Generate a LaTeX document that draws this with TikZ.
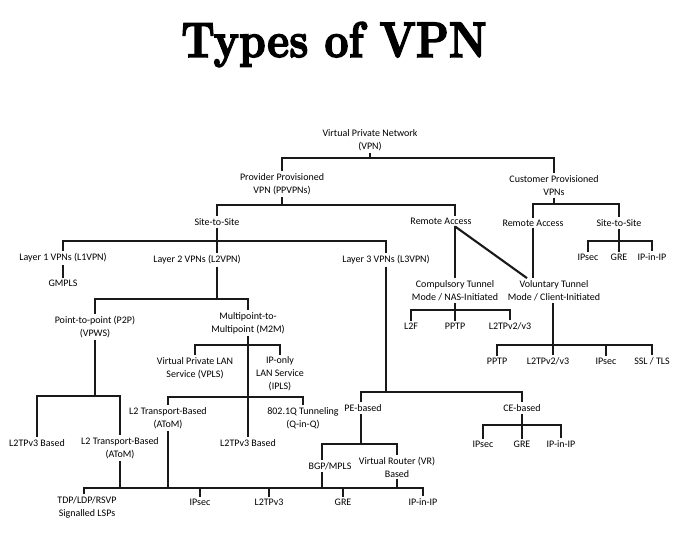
\documentclass[tikz,border=0pt]{standalone}
\usepackage{fontspec}
\newfontfamily\bodyfont{Carlito}
\newfontfamily\titlefont{lmroman10-bold.otf}[FakeBold=3]
\tikzset{
  lbl/.style={font=\bodyfont\fontsize{10}{13}\selectfont, align=center, inner xsep=1pt, inner ysep=2pt, text=black},
  ln/.style={line width=2.1pt, black!90}
}
\begin{document}
\begin{tikzpicture}[x=1pt,y=-1pt]
\useasboundingbox (0,0) rectangle (680,539);
\node[anchor=base, inner sep=0, font=\titlefont\fontsize{50}{50}\selectfont] (title) at (334,57) {\scalebox{0.84}[1]{Types of VPN}};

% nodes
\node[lbl] (vpn) at (370,140.5) {Virtual Private Network\\(VPN)};
\node[lbl] (pp) at (282,184) {Provider Provisioned\\VPN (PPVPNs)};
\node[lbl] (cp) at (554,185.5) {Customer Provisioned\\VPNs};
\node[lbl] (sts) at (217,222) {Site-to-Site};
\node[lbl] (ra) at (441,221) {Remote Access};
\node[lbl] (cra) at (533,223) {Remote Access};
\node[lbl] (csts) at (619,223) {Site-to-Site};
\node[lbl] (cipsec) at (588,257) {IPsec};
\node[lbl] (cgre) at (619,257) {GRE};
\node[lbl] (cipip) at (652,257) {IP-in-IP};
\node[lbl] (l1) at (63,258) {Layer 1 VPNs (L1VPN)};
\node[lbl] (l2) at (197,260) {Layer 2 VPNs (L2VPN)};
\node[lbl] (l3) at (386,260) {Layer 3 VPNs (L3VPN)};
\node[lbl] (gmpls) at (63,283) {GMPLS};
\node[lbl] (comp) at (455,290.5) {Compulsory Tunnel\\Mode / NAS-Initiated};
\node[lbl] (vol) at (554,290.5) {Voluntary Tunnel\\Mode / Client-Initiated};
\node[lbl] (l2f) at (411,326) {L2F};
\node[lbl] (pptpa) at (455,326) {PPTP};
\node[lbl] (l2tpa) at (510,326) {L2TPv2/v3};
\node[lbl] (vpptp) at (497,361) {PPTP};
\node[lbl] (vl2tp) at (548,361) {L2TPv2/v3};
\node[lbl] (vipsec) at (606,361) {IPsec};
\node[lbl] (vssl) at (652,361) {SSL / TLS};
\node[lbl] (p2p) at (95,327) {Point-to-point (P2P)\\(VPWS)};
\node[lbl] (m2m) at (248,323) {Multipoint-to-\\Multipoint (M2M)};
\node[lbl] (vpls) at (195,368) {Virtual Private LAN\\Service (VPLS)};
\node[lbl] (ipls) at (280,374) {IP-only\\LAN Service\\(IPLS)};
\node[lbl] (atomb) at (168,418) {L2 Transport-Based\\(AToM)};
\node[lbl] (qinq) at (303,418) {802.1Q Tunneling\\(Q-in-Q)};
\node[lbl] (l2tpvb) at (248,443) {L2TPv3 Based};
\node[lbl] (l2tpva) at (37,443) {L2TPv3 Based};
\node[lbl] (atoma) at (120,448) {L2 Transport-Based\\(AToM)};
\node[lbl] (pe) at (363,408) {PE-based};
\node[lbl] (ce) at (522,408) {CE-based};
\node[lbl] (ceipsec) at (483,444) {IPsec};
\node[lbl] (cegre) at (522,444) {GRE};
\node[lbl] (ceipip) at (561,444) {IP-in-IP};
\node[lbl] (bgp) at (330,466) {BGP/MPLS};
\node[lbl] (vr) at (397,467) {Virtual Router (VR)\\Based};
\node[lbl] (tdp) at (87,507.5) {TDP/LDP/RSVP\\Signalled LSPs};
\node[lbl] (ipsecc) at (200,502) {IPsec};
\node[lbl] (l2tpc) at (269,502) {L2TPv3};
\node[lbl] (grec) at (343,502) {GRE};
\node[lbl] (ipipc) at (423,502) {IP-in-IP};

% bus coordinates
\coordinate (bvpn) at (370,158);
\coordinate (bpp) at (282,205);
\coordinate (bcp) at (554,204);
\coordinate (bcsts) at (619,241);
\coordinate (bsts) at (217,241);
\coordinate (bl2) at (217,299);
\coordinate (bp2p) at (95,396);
\coordinate (bm2ma) at (248,345);
\coordinate (bm2mb) at (248,397);
\coordinate (bus) at (0,488);
\coordinate (bl3) at (386,392);
\coordinate (bpe) at (361,444);
\coordinate (bce) at (522,425);
\coordinate (bcomp) at (455,310);
\coordinate (bvol) at (553,345);

% connectors
\draw[ln] (vpn.south) -- (bvpn) -| (pp.north);
\draw[ln] (bvpn) -| (cp.north);
\draw[ln] (pp.south) -- (bpp) -| (sts.north);
\draw[ln] (bpp) -| ([xshift=14pt]ra.north);
\draw[ln] (cp.south) -- (bcp) -| (cra.north);
\draw[ln] (bcp) -| (csts.north);
\draw[ln] (csts.south) -- (cgre.north);
\draw[ln] (cipsec.north) |- (bcsts) -| (cipip.north);
\draw[ln] (sts.south) -- ([xshift=20pt]l2.north);
\draw[ln] (l1.north) |- (bsts) -| (l3.north);
\draw[ln] (l1.south) -- (gmpls.north);
\draw[ln] ([xshift=20pt]l2.south) -- (bl2);
\draw[ln] (p2p.north) |- (bl2) -| (m2m.north);
\draw[ln] (p2p.south) -- (bp2p);
\draw[ln] (l2tpva.north) |- (bp2p) -| (atoma.north);
\draw[ln] (m2m.south) -- (l2tpvb.north);
\draw[ln] (vpls.north) |- (bm2ma) -| (ipls.north);
\draw[ln] (atomb.north) |- (bm2mb) -| (qinq.north);
\draw[ln] (atoma.south) -- (atoma.south |- bus);
\draw[ln] (atomb.south) -- (atomb.south |- bus);
\draw[ln] ([xshift=-8pt]bgp.south) -- ([xshift=-8pt]bgp.south |- bus);
\draw[ln] (vr.south) -- (vr.south |- bus);
\draw[ln] ([xshift=-3pt]tdp.north) |- (ipipc.north |- bus) -- (ipipc.north);
\draw[ln] (ipsecc.north) -- (ipsecc.north |- bus);
\draw[ln] (l2tpc.north) -- (l2tpc.north |- bus);
\draw[ln] (grec.north) -- (grec.north |- bus);
\draw[ln] (l3.south) -- (bl3);
\draw[ln] ([xshift=-2pt]pe.north) |- (bl3) -| (ce.north);
\draw[ln] ([xshift=-2pt]pe.south) -- (bpe);
\draw[ln] ([xshift=-8pt]bgp.north) |- (bpe) -| (vr.north);
\draw[ln] (ce.south) -- (cegre.north);
\draw[ln] (ceipsec.north) |- (bce) -| (ceipip.north);
\draw[ln] ([xshift=14pt]ra.south) -- (comp.north);
\draw[ln] ([xshift=14pt]ra.south) -- ([xshift=-27pt]vol.north);
\draw[ln] (cra.south) -- (cra.south |- vol.north);
\draw[ln] (comp.south) -- (pptpa.north);
\draw[ln] (l2f.north) |- (bcomp) -| (l2tpa.north);
\draw[ln] ([xshift=-1pt]vol.south) -- (bvol) -- (bvol |- vl2tp.north);
\draw[ln] (vpptp.north) |- (bvol) -| (vssl.north);
\draw[ln] (vipsec.north) -- (vipsec.north |- bvol);
\end{tikzpicture}
\end{document}
